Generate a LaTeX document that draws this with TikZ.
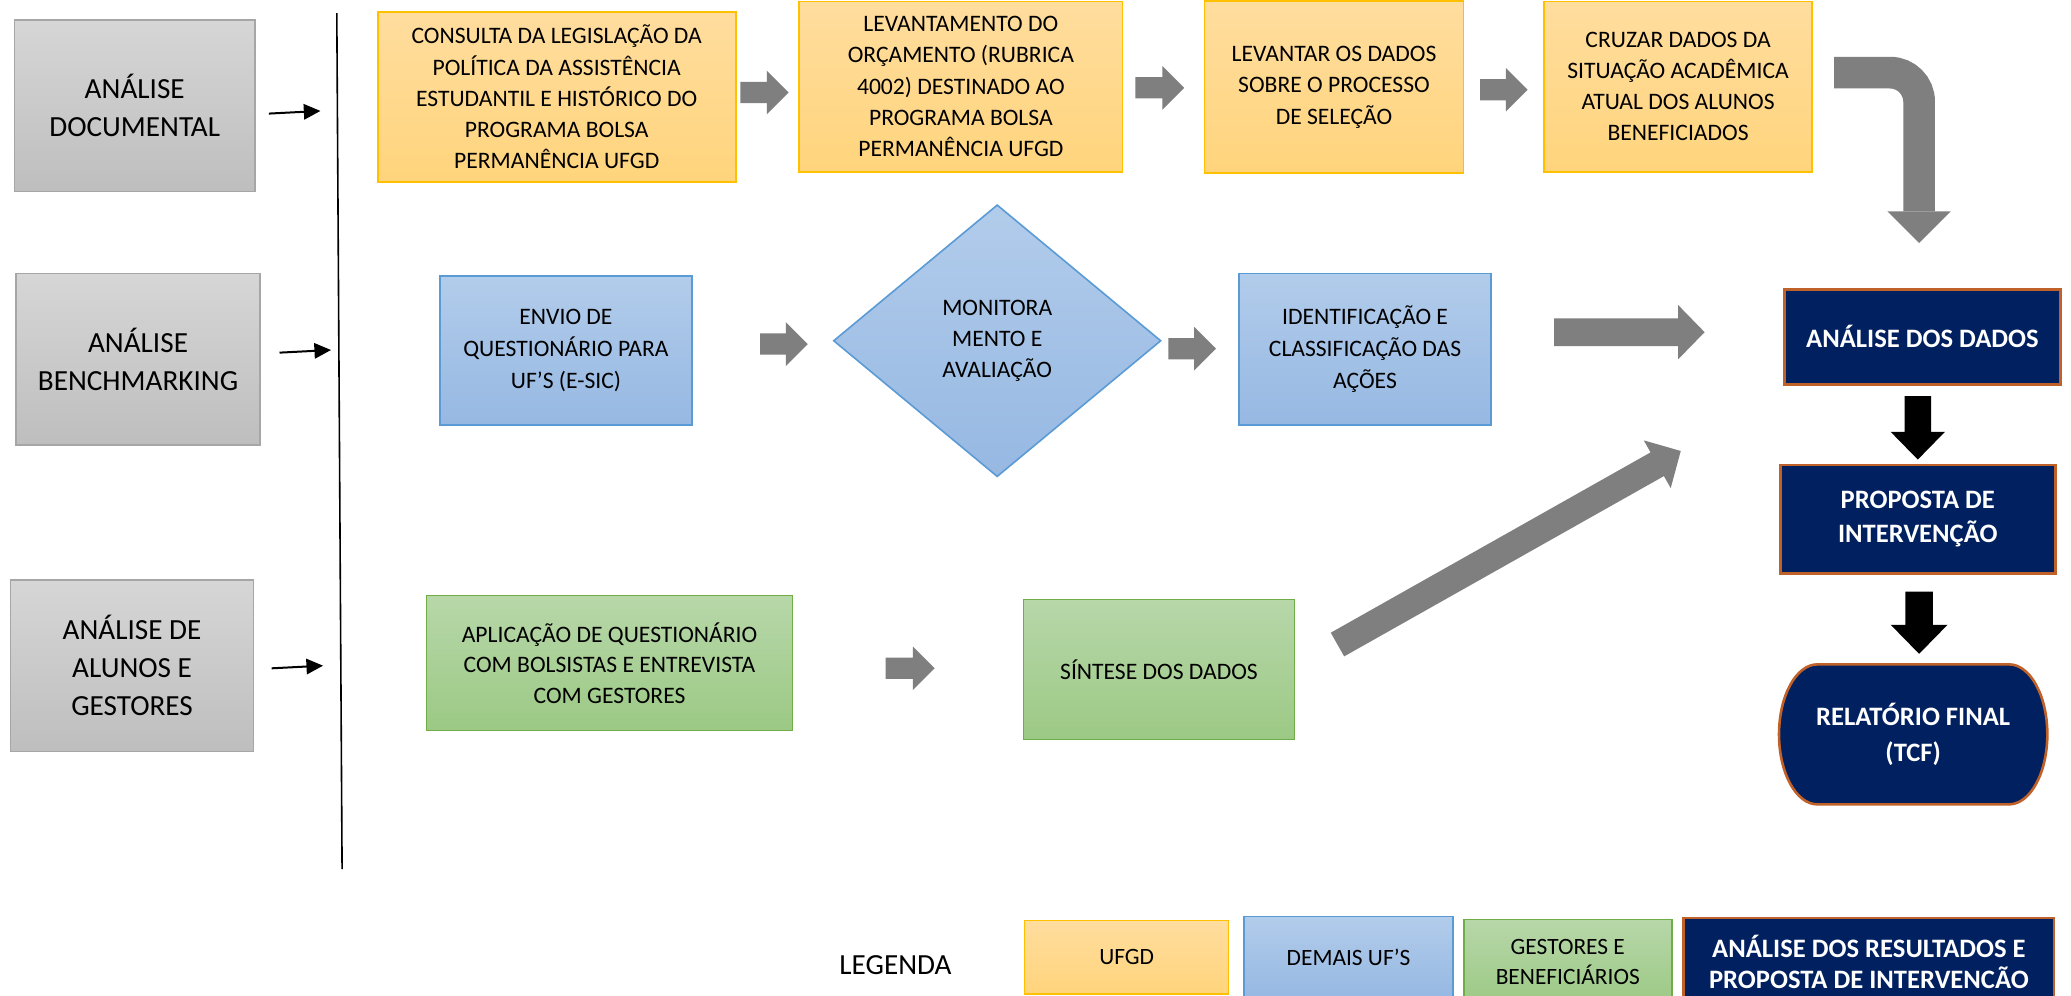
\documentclass[tikz,border=0pt]{standalone}
\usepackage{fontspec}
\setmainfont{Carlito}
\usetikzlibrary{shapes.geometric,calc,arrows.meta}

\definecolor{grayT}{HTML}{D6D6D6}
\definecolor{grayB}{HTML}{BEBEBE}
\definecolor{grayD}{HTML}{A6A6A6}
\definecolor{yelT}{HTML}{FFDD9E}
\definecolor{yelB}{HTML}{FFD47C}
\definecolor{yelD}{HTML}{FFC000}
\definecolor{bluT}{HTML}{B2CCEB}
\definecolor{bluB}{HTML}{96B8E2}
\definecolor{bluD}{HTML}{5B9BD5}
\definecolor{greT}{HTML}{B7D7A9}
\definecolor{greB}{HTML}{9CC985}
\definecolor{greD}{HTML}{70AD47}
\definecolor{navy}{HTML}{002060}
\definecolor{navyD}{HTML}{C0612A}
\definecolor{arrgray}{HTML}{7F7F7F}

% block arrow: style, start, end, shaft half width, head half width, head length
\newcommand{\blockarr}[6]{%
  \coordinate (bP) at ($(#3)!#6!(#2)$);
  \fill[#1] ($(#2)!#4!90:(#3)$) -- ($(bP)!#4!90:(#3)$) -- ($(bP)!#5!90:(#3)$) -- (#3)
    -- ($(bP)!#5!-90:(#3)$) -- ($(bP)!#4!-90:(#3)$) -- ($(#2)!#4!-90:(#3)$) -- cycle;
}

\tikzset{
  base/.style={rectangle, inner sep=0pt, align=center, line width=0.8pt},
  sz/.style 2 args={minimum width=#1, minimum height=#2},
  graybox/.style={base, top color=grayT, bottom color=grayB, draw=grayD, font=\fontsize{14.6}{19}\selectfont},
  yelbox/.style={base, top color=yelT, bottom color=yelB, draw=yelD, font=\fontsize{11.8}{15.6}\selectfont},
  blubox/.style={base, top color=bluT, bottom color=bluB, draw=bluD, font=\fontsize{11.8}{16}\selectfont},
  grebox/.style={base, top color=greT, bottom color=greB, draw=greD, font=\fontsize{11.8}{15.4}\selectfont},
  navybox/.style={base, fill=navy, draw=navyD, line width=1.3pt, text=white, font=\fontsize{13.3}{17.3}\selectfont\bfseries},
  garrow/.style={fill=arrgray},
  karrow/.style={fill=black},
  thinarr/.style={line width=1pt, -{Triangle[length=8.3pt,width=7.7pt]}},
}

\begin{document}
\begin{tikzpicture}[x=0.6604pt, y=-0.6604pt]
\path[use as bounding box, fill=white] (0,0) rectangle (1568,754);

% left column
\node[graybox, sz={120.2pt}{85.9pt}] (g1) at (102,80) {ANÁLISE\\DOCUMENTAL};
\node[graybox, sz={122.2pt}{85.9pt}] (g2) at (104.5,272) {ANÁLISE\\BENCHMARKING};
\node[graybox, sz={121.5pt}{85.9pt}] (g3) at (100,504) {ANÁLISE DE\\ALUNOS E\\GESTORES};

\coordinate (vtop) at (255,10);
\coordinate (vbot) at (259,658);
\draw[line width=0.8pt] (vtop) -- (vbot);

\draw[thinarr] ($(g1.east)+(10,6)$) -- ($(g1.east)+(49,4)$);
\draw[thinarr] ($(g2.east)+(14,-5)$) -- ($(g2.east)+(53,-7)$);
\draw[thinarr] ($(g3.east)+(13,2)$) -- ($(g3.east)+(52,0)$);

% yellow row
\node[yelbox, sz={179pt}{85.2pt}] (y1) at (421.5,73.5) {CONSULTA DA LEGISLAÇÃO DA\\POLÍTICA DA ASSISTÊNCIA\\ESTUDANTIL E HISTÓRICO DO\\PROGRAMA BOLSA\\PERMANÊNCIA UFGD};
\node[yelbox, sz={161.8pt}{85.2pt}] (y2) at (727.5,65.5) {LEVANTAMENTO DO\\ORÇAMENTO (RUBRICA\\4002) DESTINADO AO\\PROGRAMA BOLSA\\PERMANÊNCIA UFGD};
\node[yelbox, sz={129.4pt}{85.9pt}] (y3) at (1010,66) {LEVANTAR OS DADOS\\SOBRE O PROCESSO\\DE SELEÇÃO};
\node[yelbox, sz={134.1pt}{85.2pt}] (y4) at (1270.5,65.5) {CRUZAR DADOS DA\\SITUAÇÃO ACADÊMICA\\ATUAL DOS ALUNOS\\BENEFICIADOS};

\coordinate (a1s) at ($(y1.east)+(3,-3.5)$);
\coordinate (a1e) at ($(y1.east)+(39.5,-3.5)$);
\blockarr{garrow}{a1s}{a1e}{5.3pt}{10.9pt}{10.9pt}
\coordinate (a2s) at ($(y2.east)+(9,1)$);
\coordinate (a2e) at ($(y2.east)+(46,1)$);
\blockarr{garrow}{a2s}{a2e}{5.3pt}{10.9pt}{10.9pt}
\coordinate (a3s) at ($(y3.east)+(12,2)$);
\coordinate (a3e) at ($(y3.east)+(48,2)$);
\blockarr{garrow}{a3s}{a3e}{5.3pt}{10.9pt}{10.9pt}

% blue row
\node[blubox, sz={126.1pt}{74.6pt}] (b1) at (428.5,265.5) {ENVIO DE\\QUESTIONÁRIO PARA\\UF’S (E-SIC)};
\node[diamond, aspect=1.204, inner sep=0pt, align=center, top color=bluT, bottom color=bluB, draw=bluD, line width=0.8pt,
      minimum width=163.8pt, minimum height=136pt, font=\fontsize{11.8}{15.6}\selectfont] (d) at (755,258) {MONITORA\\MENTO E\\AVALIAÇÃO};
\node[blubox, sz={126.1pt}{75.9pt}] (b2) at (1033.5,264.5) {IDENTIFICAÇÃO E\\CLASSIFICAÇÃO DAS\\AÇÕES};

\coordinate (a4s) at ($(b1.east)+(51,-5)$);
\coordinate (a4e) at ($(b1.east)+(87,-5)$);
\blockarr{garrow}{a4s}{a4e}{5.3pt}{10.9pt}{10.9pt}
\coordinate (a5s) at ($(d.east)+(5,6)$);
\coordinate (a5e) at ($(d.east)+(41,6)$);
\blockarr{garrow}{a5s}{a5e}{5.3pt}{10.9pt}{10.9pt}

% right column
\node[navybox, sz={138pt}{47.5pt}] (n1) at (1455.5,255) {ANÁLISE DOS DADOS};
\node[navybox, sz={137.4pt}{54.2pt}] (n2) at (1452,393) {PROPOSTA DE\\INTERVENÇÃO};
\coordinate (n3c) at (1448.5,556);
\draw[fill=navy, draw=navyD, line width=1.3pt]
  ($(n3c)+(-72.5,-53)$) -- ($(n3c)+(72.5,-53)$)
  arc[start angle=90, end angle=-90, x radius=19.2pt, y radius=35pt]
  -- ($(n3c)+(-72.5,53)$)
  arc[start angle=270, end angle=90, x radius=19.2pt, y radius=35pt] -- cycle;
\node[inner sep=0pt, align=center, text=white, font=\fontsize{13.3}{17.9}\selectfont\bfseries,
      minimum width=134pt, minimum height=70pt] (n3) at (n3c) {RELATÓRIO FINAL\\(TCF)};

\coordinate (k1s) at ($(n1.south)+(-3.5,8)$);
\coordinate (k1e) at ($(n1.south)+(-3.5,56)$);
\blockarr{karrow}{k1s}{k1e}{6.6pt}{13.6pt}{13.9pt}
\coordinate (k2s) at ($(n2.south)+(1,13)$);
\coordinate (k2e) at ($(n2.south)+(1,60)$);
\blockarr{karrow}{k2s}{k2e}{6.9pt}{14.2pt}{14.5pt}

% bent arrow from top row to analysis
\coordinate (bs) at ($(y4.east)+(16,-10.5)$);
\coordinate (bh) at ($(n1.north)+(-2.5,-58)$);
\coordinate (bt) at ($(n1.north)+(-2.5,-34)$);
\draw[arrgray, line width=15.85pt, rounded corners=14.5pt] (bs) -| (bh);
\fill[garrow] ($(bh)+(-24,0)$) -- ($(bh)+(24,0)$) -- (bt) -- cycle;

% blue row big arrow
\coordinate (c1s) at ($(b2.east)+(47,-13)$);
\coordinate (c1e) at ($(b2.east)+(161,-13)$);
\blockarr{garrow}{c1s}{c1e}{6.93pt}{13.54pt}{13.2pt}

% green row
\node[grebox, sz={182.9pt}{67.4pt}] (gr1) at (461.5,502) {APLICAÇÃO DE QUESTIONÁRIO\\COM BOLSISTAS E ENTREVISTA\\COM GESTORES};
\node[grebox, sz={135.4pt}{70pt}] (gr2) at (877.5,507) {SÍNTESE DOS DADOS};

\coordinate (a6s) at ($(gr1.east)+(70,4)$);
\coordinate (a6e) at ($(gr1.east)+(107,4)$);
\blockarr{garrow}{a6s}{a6e}{5.3pt}{10.9pt}{10.9pt}

\coordinate (c2s) at ($(gr2.east)+(32,-19)$);
\coordinate (c2e) at ($(n1.south west)+(-77.5,49.5)$);
\blockarr{garrow}{c2s}{c2e}{6.8pt}{13.7pt}{13.5pt}

% legend
\node[font=\fontsize{14.6}{19}\selectfont, inner sep=0pt] (leg) at (678,731) {LEGENDA};
\node[yelbox, sz={102pt}{36.6pt}, font=\fontsize{11.7}{15.2}\selectfont] (l1) at (853,724.7) {UFGD};
\node[blubox, sz={104.3pt}{40.5pt}, font=\fontsize{11.7}{15.2}\selectfont] (l2) at (1021,724.7) {DEMAIS UF’S};
\node[grebox, sz={104pt}{42.5pt}, font=\fontsize{11.7}{15.2}\selectfont] (l3) at (1187,728.2) {GESTORES E\\BENEFICIÁRIOS};
\node[navybox, sz={185.2pt}{43.9pt}, font=\fontsize{13.3}{15.4}\selectfont\bfseries] (l4) at (1415,728.2) {ANÁLISE DOS RESULTADOS E\\PROPOSTA DE INTERVENCÃO};
\end{tikzpicture}
\end{document}
